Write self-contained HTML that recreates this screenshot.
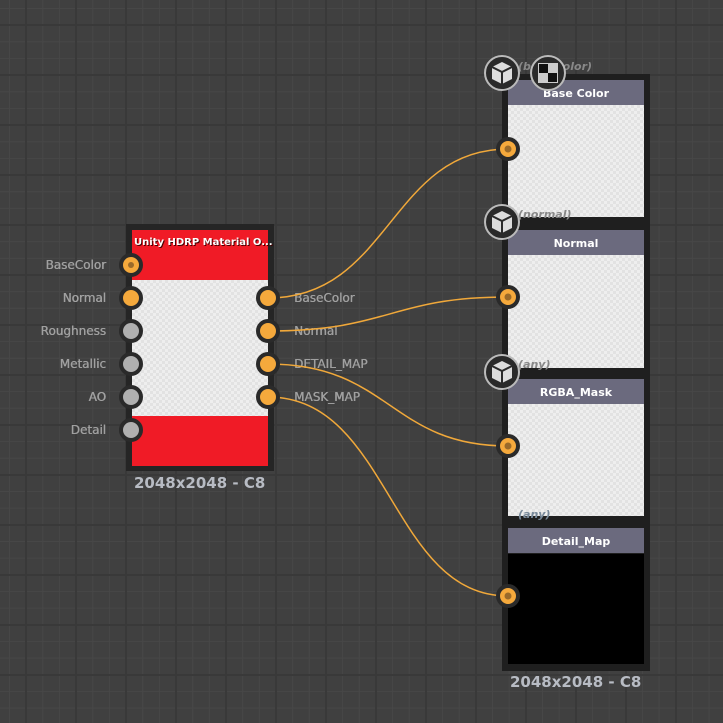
<!DOCTYPE html><html><head><style>
body{margin:0;width:723px;height:723px;overflow:hidden;background:#404040;font-family:"DejaVu Sans","Liberation Sans",sans-serif}
.bg{position:absolute;left:0;top:0;width:723px;height:723px;
background-image:linear-gradient(90deg,#393939 2px,transparent 2px),linear-gradient(#393939 2px,transparent 2px),linear-gradient(90deg,#474747 1px,transparent 1px),linear-gradient(#474747 1px,transparent 1px);
background-size:50px 50px,50px 50px,16.67px 16.67px,16.67px 16.67px;background-position:25px 24px,25px 24px,9px 8px,9px 8px}
.abs{position:absolute}
.chk{background-color:#eee;background-image:linear-gradient(45deg,#e2e2e2 25%,transparent 25%,transparent 75%,#e2e2e2 75%),linear-gradient(45deg,#e2e2e2 25%,transparent 25%,transparent 75%,#e2e2e2 75%);background-size:6px 6px;background-position:0 0,3px 3px}
.lbl{position:absolute;color:#a0a0a0;font-size:12px;text-shadow:0.4px 0 0 #a0a0a0}
.hdr{position:absolute;left:508px;width:136px;height:25px;background:#6b6a7e;color:#fff;font-size:11px;font-weight:bold;text-align:center;line-height:27px}
.it{position:absolute;color:#888;font-size:11px;font-style:italic;font-weight:bold}
.big{position:absolute;font-size:15px;font-weight:bold;color:#b8bcc4}
</style></head><body>
<div class="bg"></div>
<div class="abs" style="left:126px;top:224px;width:148px;height:247px;background:#252525"></div>
<div class="abs" style="left:132px;top:230px;width:136px;height:50px;background:#f01b26"></div>
<div class="abs chk" style="left:132px;top:280px;width:136px;height:136px"></div>
<div class="abs" style="left:132px;top:416px;width:136px;height:50px;background:#f01b26"></div>
<div class="abs" style="left:134px;top:237px;color:#fff;font-size:10px;font-weight:bold;text-shadow:1px 1px 0 #400">Unity HDRP Material O...</div>
<div class="lbl" style="right:617px;top:258px">BaseColor</div>
<div class="lbl" style="right:617px;top:291px">Normal</div>
<div class="lbl" style="right:617px;top:324px">Roughness</div>
<div class="lbl" style="right:617px;top:357px">Metallic</div>
<div class="lbl" style="right:617px;top:390px">AO</div>
<div class="lbl" style="right:617px;top:423px">Detail</div>
<div class="lbl" style="left:294px;top:291px">BaseColor</div>
<div class="lbl" style="left:294px;top:324px">Normal</div>
<div class="lbl" style="left:294px;top:357px">DETAIL_MAP</div>
<div class="lbl" style="left:294px;top:390px">MASK_MAP</div>
<div class="big" style="left:134px;top:474px">2048x2048 - C8</div>
<div class="abs" style="left:502px;top:74px;width:148px;height:597px;background:#1f1f1f"></div>
<div class="hdr" style="top:80px">Base Color</div>
<div class="abs chk" style="left:508px;top:105px;width:136px;height:112px"></div>
<div class="hdr" style="top:230px">Normal</div>
<div class="abs chk" style="left:508px;top:255px;width:136px;height:113px"></div>
<div class="hdr" style="top:379px">RGBA_Mask</div>
<div class="abs chk" style="left:508px;top:404px;width:136px;height:112px"></div>
<div class="hdr" style="top:528px">Detail_Map</div>
<div class="abs" style="left:508px;top:554px;width:136px;height:110px;background:#000"></div>
<div class="it" style="left:518px;top:60px">(base color)</div>
<div class="it" style="left:518px;top:208px">(normal)</div>
<div class="it" style="left:518px;top:358px">(any)</div>
<div class="it" style="left:518px;top:508px;color:#789">(any)</div>
<div class="big" style="left:510px;top:673px">2048x2048 - C8</div>
<svg class="abs" style="left:0;top:0" width="723" height="723">
<g fill="none" stroke="#f0a83a" stroke-width="1.5">
<path d="M268 298 C390 298 390 149 508 149"/>
<path d="M268 331 C390 331 390 297 508 297"/>
<path d="M268 364 C390 364 390 446 508 446"/>
<path d="M268 397 C390 397 390 596 508 596"/>
</g>
<g stroke="#2a2a2a" stroke-width="4">
<circle cx="131" cy="265" r="10" fill="#f5a93c"/>
<circle cx="131" cy="298" r="10" fill="#f5a93c"/>
<circle cx="131" cy="331" r="10" fill="#b0b0b0"/>
<circle cx="131" cy="364" r="10" fill="#b0b0b0"/>
<circle cx="131" cy="397" r="10" fill="#b0b0b0"/>
<circle cx="131" cy="430" r="10" fill="#b0b0b0"/>
<circle cx="268" cy="298" r="10" fill="#f5a93c"/>
<circle cx="268" cy="331" r="10" fill="#f5a93c"/>
<circle cx="268" cy="364" r="10" fill="#f5a93c"/>
<circle cx="268" cy="397" r="10" fill="#f5a93c"/>
<circle cx="508" cy="149" r="10" fill="#f5a93c"/>
<circle cx="508" cy="297" r="10" fill="#f5a93c"/>
<circle cx="508" cy="446" r="10" fill="#f5a93c"/>
<circle cx="508" cy="596" r="10" fill="#f5a93c"/>
</g>
<g fill="#9a6a2a"><circle cx="131" cy="265" r="3"/><circle cx="508" cy="149" r="3.5"/><circle cx="508" cy="297" r="3.5"/><circle cx="508" cy="446" r="3.5"/><circle cx="508" cy="596" r="3.5"/></g>
<g id="cube">
<circle cx="502" cy="73" r="17" fill="#2a2a2a" stroke="#bbb" stroke-width="2"/>
<path d="M502 62 L512 67 L512 79 L502 84 L492 79 L492 67 Z" fill="#ddd"/>
<path d="M492 67 L502 72 L512 67 M502 72 L502 84" stroke="#2a2a2a" stroke-width="2" fill="none"/>
</g>
<use href="#cube" y="149"/><use href="#cube" y="299"/>
<circle cx="548" cy="73" r="17" fill="#2a2a2a" stroke="#bbb" stroke-width="2"/>
<rect x="538" y="63" width="20" height="20" fill="#ccc"/>
<rect x="539" y="64" width="9" height="9" fill="#111"/><rect x="548" y="73" width="9" height="9" fill="#111"/>
</svg>
</body></html>
